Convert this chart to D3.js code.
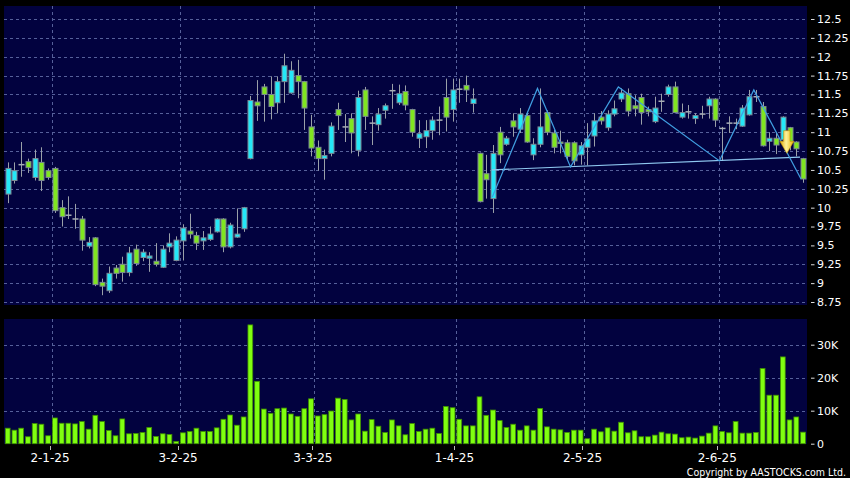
<!DOCTYPE html>
<html><head><meta charset="utf-8">
<script src="https://cdn.jsdelivr.net/npm/d3@7"></script>
<style>html,body{margin:0;padding:0;background:#000;} svg{display:block;}</style>
</head><body><svg id="c" width="850" height="478"></svg>
<script>
// ---- data ----
const opens  = [10.18,10.36,10.57,10.61,10.40,10.60,10.49,10.52,10.00,9.90, 9.85,9.85,9.49,9.60,9.01,8.90,9.20,9.25,9.14,9.45,
                9.34,9.33,9.29,9.21,9.48,9.30,9.56,9.69,9.63,9.56, 9.58,9.68,9.85,9.48,9.61,9.72,10.65,11.40,11.60,11.50,
                11.39,11.67,11.52,11.75,11.67,11.07,10.80,10.65,10.72,11.30, 11.07,11.18,10.76,11.56,11.12,11.10,11.29,11.55,11.39,11.54,
                11.30,10.92,10.94,11.02,11.16,11.46,11.30,11.57,11.62,11.38, 10.72,10.45,10.12,11.00,10.84,11.15,11.04,11.22,10.70,10.84,
                11.26,10.99,10.87,10.86,10.86,10.70,10.80,10.95,11.20,11.06, 11.24,11.44,11.51,11.35,11.46,11.30,11.14,11.41,11.50,11.60,
                11.20,11.27,11.18,11.24,11.35,11.44,11.05,11.12,11.12,11.08, 11.23,11.47,11.34,10.88,10.92,10.90,11.06,10.87,10.65];
const highs  = [10.60,10.60,10.87,10.65,10.77,10.80,10.52,10.54,10.10,10.15, 10.05,9.89,9.61,9.61,9.06,9.22,9.24,9.35,9.48,9.51,
                9.45,9.41,9.53,9.50,9.66,9.62,9.78,9.92,9.68,9.69, 9.75,9.86,9.86,9.80,9.99,10.01,11.48,11.69,11.64,11.74,
                11.74,12.04,11.94,11.96,11.68,11.23,10.89,10.77,11.13,11.39, 11.24,11.25,11.55,11.60,11.21,11.32,11.38,11.64,11.63,11.62,
                11.31,11.16,11.16,11.21,11.34,11.71,11.71,11.71,11.75,11.58, 10.73,10.70,10.83,11.07,10.95,11.25,11.32,11.27,10.92,11.58,
                11.29,11.03,11.02,10.90,10.88,10.87,11.12,11.25,11.28,11.29, 11.42,11.58,11.58,11.49,11.51,11.34,11.47,11.51,11.63,11.67,
                11.38,11.36,11.25,11.35,11.47,11.45,11.07,11.21,11.18,11.36, 11.56,11.56,11.40,11.00,11.00,11.21,11.07,10.88,10.66];
const lows   = [10.06,10.32,10.41,10.46,10.36,10.22,10.37,9.93,9.75,9.85, 9.72,9.43,9.46,8.96,8.84,8.87,9.06,9.02,9.09,9.23,
                9.29,9.15,9.22,9.20,9.41,9.29,9.30,9.59,9.44,9.44, 9.56,9.67,9.41,9.46,9.60,9.68,10.64,11.15,11.14,11.17,
                11.25,11.39,11.51,11.45,11.03,10.68,10.49,10.37,10.68,11.03, 10.87,10.72,10.68,11.03,10.83,11.02,11.18,11.31,11.36,11.29,
                10.94,10.79,10.79,10.90,10.96,11.01,11.14,11.39,11.40,11.26, 10.07,10.12,9.93,10.59,10.82,10.94,10.99,10.86,10.63,10.80,
                10.96,10.72,10.72,10.63,10.56,10.57,10.56,10.81,11.10,11.02, 11.21,11.40,11.21,11.21,11.10,11.21,11.12,11.27,11.47,11.25,
                11.18,11.18,11.11,11.18,11.18,11.07,10.62,10.99,11.04,11.07, 11.22,11.40,10.81,10.75,10.71,10.81,10.76,10.68,10.33];
const closes = [10.52,10.49,10.57,10.53,10.65,10.36,10.40,9.96,9.88,9.90, 9.85,9.57,9.54,8.98,8.96,9.13,9.13,9.14,9.40,9.26,
                9.41,9.36,9.25,9.45,9.53,9.57,9.73,9.65,9.53,9.60, 9.65,9.85,9.48,9.77,9.65,10.00,11.42,11.35,11.50,11.34,
                11.67,11.88,11.82,11.67,11.32,10.79,10.65,10.69,11.08,11.22, 11.07,10.99,11.46,11.21,11.12,11.24,11.35,11.55,11.51,11.36,
                11.00,10.98,11.02,11.16,11.16,11.20,11.56,11.57,11.56,11.44, 10.08,10.37,10.72,10.70,10.92,11.07,11.24,10.87,10.84,11.07,
                11.00,10.80,10.85,10.68,10.62,10.82,10.91,11.15,11.15,11.24, 11.31,11.52,11.28,11.31,11.26,11.27,11.32,11.41,11.60,11.26,
                11.26,11.27,11.22,11.24,11.44,11.16,11.05,11.12,11.12,11.32, 11.47,11.47,10.82,10.92,10.83,11.20,10.87,10.78,10.38];
const volumeK = [4.7,4.1,4.7,2.1,6.1,5.9,2.4,7.8,6.2,6.2, 6.0,6.7,4.4,8.6,6.7,4.0,2.4,7.5,3.0,3.1,
                 3.4,4.9,2.2,3.0,2.8,0.7,3.3,3.7,4.7,3.7, 3.7,4.8,7.4,8.7,5.6,8.1,36.0,18.9,10.5,9.2,
                 10.6,10.8,9.0,8.3,10.6,13.6,8.4,8.8,9.9,13.8, 13.4,7.2,9.0,3.8,7.3,5.3,3.4,7.2,5.4,2.7,
                 6.1,3.7,4.4,4.7,3.1,11.3,10.9,7.4,5.4,5.4, 14.2,8.6,10.2,7.0,4.9,5.9,4.1,5.4,4.1,10.7,
                 5.1,4.4,4.2,3.4,4.1,4.1,1.5,4.4,3.6,4.8, 3.8,6.5,3.3,3.9,2.1,2.1,2.6,3.5,3.0,2.9,
                 1.8,2.0,1.7,2.3,3.2,5.4,3.7,3.3,6.7,3.2, 3.2,3.4,22.8,14.7,14.7,26.3,7.2,8.1,3.5];
const priceTicks = [8.75,9,9.25,9.5,9.75,10,10.25,10.5,10.75,11,11.25,11.5,11.75,12,12.25,12.5];
const volTicks = [0,10,20,30];
const volTickLabels = ["0","10K","20K","30K"];
const dateTickIndex = [7,26,46,67,86,106];
const dateTickLabels = ["2-1-25","3-2-25","3-3-25","1-4-25","2-5-25","2-6-25"];
const patternIdx = [71.9,78.6,83.5,90.6,105.6,110.7,117.7];
const patternPrice = [10.14,11.58,10.54,11.60,10.62,11.56,10.38];
const necklineIdx = [71.85,117.55];
const necklinePrice = [10.50,10.67];
const arrowIdx = 115.6, arrowTopPrice = 11.02, arrowTipPrice = 10.72;

// ---- chart ----
const svg = d3.select("#c");
const n = opens.length;
const idx = d3.range(n);
const x = d3.scaleBand().domain(idx).range([4.33, 806.4]).paddingInner(0).paddingOuter(0);
const bw = x.bandwidth();
const cx = i => x(i) + bw/2;
const xi = d3.scaleLinear().domain([0, n-1]).range([cx(0), cx(n-1)]);
const y = d3.scaleLinear().domain([8.75, 12.5]).range([302, 19]);
const yv = d3.scaleLinear().domain([0, 30]).range([443.7, 344.7]);

const PL = 4, PR = 807;
const navy = "#02023f";
const gridCol = "#56609a";

svg.append("rect").attr("x",0).attr("y",0).attr("width",850).attr("height",478).attr("fill","#000");
svg.append("rect").attr("x",PL).attr("y",6).attr("width",PR-PL).attr("height",299).attr("fill",navy);
svg.append("rect").attr("x",PL).attr("y",319).attr("width",PR-PL).attr("height",125).attr("fill",navy);

// grids
const g = svg.append("g").attr("stroke",gridCol).attr("stroke-dasharray","3,3").attr("stroke-width",1);
g.selectAll("line.h").data(priceTicks).join("line").attr("class","h")
  .attr("x1",PL).attr("x2",PR).attr("y1",d=>Math.round(y(d))+0.5).attr("y2",d=>Math.round(y(d))+0.5);
g.selectAll("line.hv").data(volTicks.slice(1)).join("line").attr("class","hv")
  .attr("x1",PL).attr("x2",PR).attr("y1",d=>Math.round(yv(d))+0.5).attr("y2",d=>Math.round(yv(d))+0.5);
g.selectAll("line.v1").data(dateTickIndex).join("line").attr("class","v1")
  .attr("x1",d=>Math.round(x(d))+0.5).attr("x2",d=>Math.round(x(d))+0.5).attr("y1",6).attr("y2",305);
g.selectAll("line.v2").data(dateTickIndex).join("line").attr("class","v2")
  .attr("x1",d=>Math.round(x(d))+0.5).attr("x2",d=>Math.round(x(d))+0.5).attr("y1",319).attr("y2",444);

// right axes
const ax = svg.append("g").attr("font-family","DejaVu Sans").attr("font-size",11).attr("fill","#fff");
ax.selectAll("text.p").data(priceTicks).join("text").attr("class","p")
  .attr("x",817).attr("y",d=>y(d)).attr("dy","0.36em").text(d=>d3.format("")(d));
ax.selectAll("line.p").data(priceTicks).join("line").attr("class","p")
  .attr("x1",811).attr("x2",814.5).attr("y1",d=>y(d)+0.5).attr("y2",d=>y(d)+0.5).attr("stroke","#ddd");
ax.selectAll("text.v").data(volTicks).join("text").attr("class","v")
  .attr("x",817).attr("y",d=>yv(d)).attr("dy","0.36em").text((d,i)=>volTickLabels[i]);
ax.selectAll("line.v").data(volTicks).join("line").attr("class","v")
  .attr("x1",811).attr("x2",814.5).attr("y1",d=>yv(d)+0.5).attr("y2",d=>yv(d)+0.5).attr("stroke","#ddd");

// bottom axis
const bx = svg.append("g").attr("font-family","DejaVu Sans").attr("font-size",12).attr("fill","#fff");
bx.selectAll("line").data(dateTickIndex).join("line")
  .attr("x1",d=>Math.round(x(d))-1.5).attr("x2",d=>Math.round(x(d))-1.5).attr("y1",446).attr("y2",450).attr("stroke","#bbb");
bx.selectAll("text").data(dateTickIndex).join("text")
  .attr("x",d=>x(d)-1.5).attr("y",462).attr("text-anchor","middle").text((d,i)=>dateTickLabels[i]);

svg.append("g").attr("transform","translate(846,475.5) scale(0.86,1)")
  .append("text").attr("x",0).attr("y",0).attr("text-anchor","end")
  .attr("font-family","DejaVu Sans").attr("font-size",11).attr("fill","#fff")
  .text("Copyright by AASTOCKS.com Ltd.");

// volume bars
svg.append("g").selectAll("rect").data(idx).join("rect")
  .attr("x",i=>cx(i)-2.4).attr("width",4.8)
  .attr("y",i=>yv(volumeK[i])).attr("height",i=>Math.max(0.8, yv(0)-yv(volumeK[i])))
  .attr("fill","#80ff10").attr("stroke","#3f8f00").attr("stroke-width",0.8);

// candles
const cg = svg.append("g");
cg.selectAll("line.w").data(idx).join("line").attr("class","w")
  .attr("x1",i=>Math.round(cx(i))+0.5).attr("x2",i=>Math.round(cx(i))+0.5)
  .attr("y1",i=>y(highs[i])).attr("y2",i=>y(lows[i])).attr("stroke","#9aa0a8").attr("stroke-width",1);
cg.selectAll("rect").data(idx.filter(i=>opens[i]!==closes[i])).join("rect")
  .attr("x",i=>Math.round(cx(i))+0.5-2.5).attr("width",5)
  .attr("y",i=>y(Math.max(opens[i],closes[i])))
  .attr("height",i=>Math.max(1, y(Math.min(opens[i],closes[i]))-y(Math.max(opens[i],closes[i]))))
  .attr("fill",i=>closes[i]>opens[i]?"#24e8f8":"#80e620")
  .attr("stroke","#7a8794").attr("stroke-width",1);
cg.selectAll("line.d").data(idx.filter(i=>opens[i]===closes[i])).join("line").attr("class","d")
  .attr("x1",i=>Math.round(cx(i))+0.5-3).attr("x2",i=>Math.round(cx(i))+0.5+3)
  .attr("y1",i=>y(opens[i])).attr("y2",i=>y(opens[i])).attr("stroke","#a8aeb6").attr("stroke-width",1.5);

// pattern lines
const lineGen = d3.line().x(d=>xi(d[0])).y(d=>y(d[1]));
svg.append("path").attr("d",lineGen(necklineIdx.map((d,i)=>[d,necklinePrice[i]])))
  .attr("fill","none").attr("stroke","#8fc8f0").attr("stroke-width",1.2);
svg.append("path").attr("d",lineGen(patternIdx.map((d,i)=>[d,patternPrice[i]])))
  .attr("fill","none").attr("stroke","#409ee0").attr("stroke-width",1.2);

// arrow
const defs = svg.append("defs");
const gr = defs.append("linearGradient").attr("id","ag").attr("x1","0").attr("x2","1").attr("y1","0").attr("y2","0");
gr.append("stop").attr("offset","0").attr("stop-color","#e0a800");
gr.append("stop").attr("offset","0.45").attr("stop-color","#fff29a");
gr.append("stop").attr("offset","1").attr("stop-color","#e8b400");
const ax0 = xi(arrowIdx), at = y(arrowTopPrice), ab = y(arrowTipPrice);
const hh = 12, sw = 3.2, hw = 7;
svg.append("path")
  .attr("d",`M${ax0-sw},${at} L${ax0+sw},${at} L${ax0+sw},${ab-hh} L${ax0+hw},${ab-hh} L${ax0},${ab} L${ax0-hw},${ab-hh} L${ax0-sw},${ab-hh} Z`)
  .attr("fill","url(#ag)").attr("stroke","#c89000").attr("stroke-width",0.6);
</script>
</body></html>
